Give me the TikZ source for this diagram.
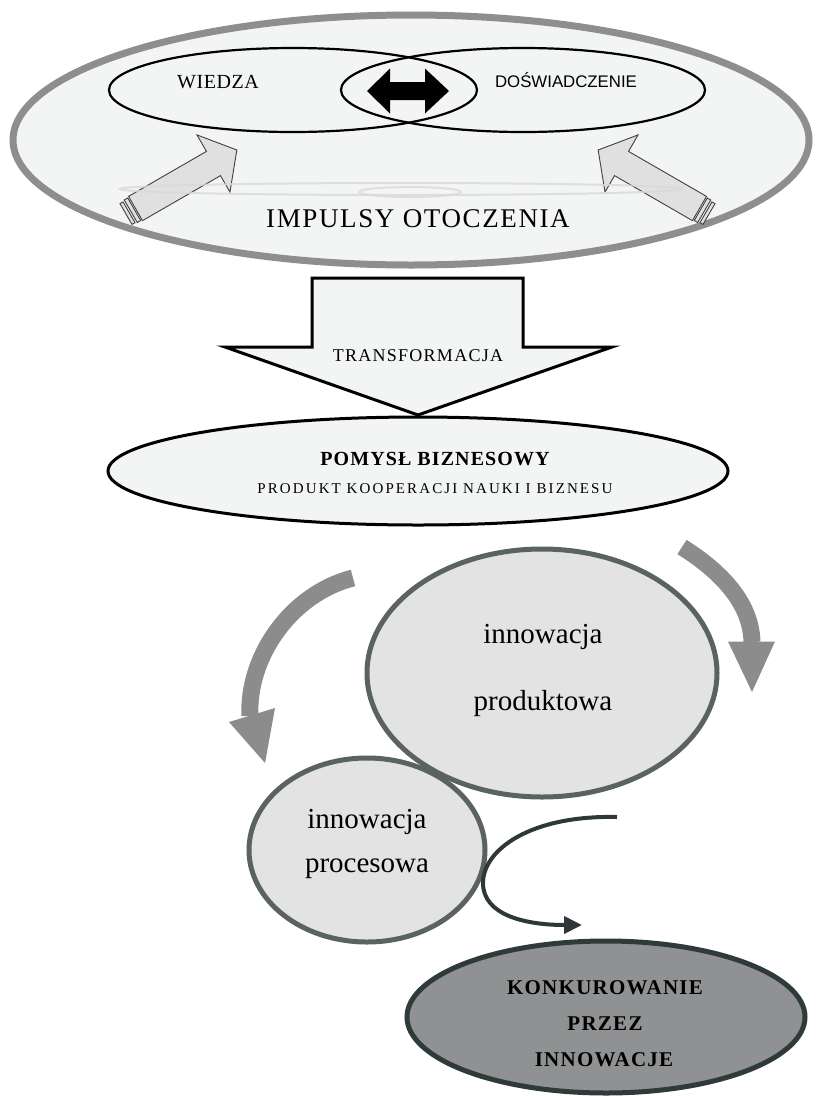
\documentclass[tikz,border=0pt]{standalone}
\usepackage{fontspec}
\setmainfont{Liberation Serif}
\newfontfamily\sansf{Liberation Sans}
\usetikzlibrary{shapes.geometric,arrows.meta}
\definecolor{envfill}{HTML}{F3F4F4}
\definecolor{envline}{HTML}{8E8E8E}
\definecolor{innfill}{HTML}{E3E3E3}
\definecolor{innline}{HTML}{5A6262}
\definecolor{konfill}{HTML}{8F9192}
\definecolor{konline}{HTML}{2F3A3A}
\definecolor{arrgray}{HTML}{8C8C8C}
\definecolor{darkarr}{HTML}{2E3838}
\definecolor{impfill}{HTML}{E0E0E0}
\begin{document}
\begin{tikzpicture}[x=1pt,y=-1pt,
  envell/.style={ellipse, draw=envline, line width=7pt, fill=envfill, inner sep=0pt},
  vennell/.style={ellipse, draw=black, line width=2.2pt, inner sep=0pt},
  ideaell/.style={ellipse, draw=black, line width=3pt, fill=envfill, inner sep=0pt},
  innell/.style={ellipse, draw=innline, line width=5pt, fill=innfill, inner sep=0pt},
  konell/.style={ellipse, draw=konline, line width=5pt, fill=konfill, inner sep=0pt},
  lbl/.style={anchor=base, inner sep=0pt},
  impline/.style={draw=black!75, line width=0.9pt, fill=impfill},
  faint/.style={draw=black!15, line width=2pt},
  cyclearr/.style={draw=arrgray, line width=17pt},
  cyclehead/.style={fill=arrgray, draw=none},
  darkconn/.style={draw=darkarr, line width=4pt, -{Triangle[length=18pt,width=17pt]}},
  blockarr/.style={draw=black, line width=3pt, fill=envfill, line join=miter},
  konfont/.style={font={\bfseries\fontsize{21}{22}\selectfont\addfontfeature{LetterSpace=6}}},
  innfont/.style={font=\fontsize{29}{30}\selectfont},
  impuls/.pic={
    \path[impline] (0,-12) rectangle (3.5,12);
    \path[impline] (5.5,-13) rectangle (9.5,13);
    \path[impline] (11,-14) -- (101,-14) -- (101,-33) -- (128,0) -- (101,33) -- (101,14) -- (11,14) -- cycle;
  }
]
\useasboundingbox (0,0) rectangle (816,1096);

% environment ellipse
\node[envell, minimum width=796pt, minimum height=250pt] (env) at (411,140) {};

% Venn ellipses
\node[vennell, minimum width=368pt, minimum height=84pt] (wiedzaell) at (293,90) {};
\node[vennell, minimum width=364pt, minimum height=84pt] (doswell) at (523,90) {};

% double arrow in the lens
\fill[black] (367,91) -- (390,68.5) -- (390,82) -- (425,82) -- (425,68.5) -- (449,91)
  -- (425,113.5) -- (425,100) -- (390,100) -- (390,113.5) -- cycle;

% impulse arrows
\pic[rotate=30] (impL) at (126,214) {impuls};
\pic[rotate=150] (impR) at (709,214) {impuls};

% faint reflections
\draw[faint, opacity=0.8] (401,189) ellipse [x radius=281, y radius=6];
\draw[faint, opacity=0.8] (410,192) ellipse [x radius=51, y radius=5];

% texts in environment
\node[lbl, font={\fontsize{20}{21}\selectfont\addfontfeature{LetterSpace=3}}] (wiedza) at (218,88) {WIEDZA};
\node[lbl, font=\sansf\fontsize{16.8}{18}\selectfont] (dosw) at (566,87) {DOŚWIADCZENIE};
\node[lbl, font={\fontsize{27}{28}\selectfont\addfontfeature{LetterSpace=6}}] (impulsy) at (418,227) {IMPULSY OTOCZENIA};

% transformation arrow
\path[blockarr] (312,278) -- (523,278) -- (523,347) -- (612,347) -- (418,415) -- (225,347) -- (312,347) -- cycle;
\node[lbl, font={\fontsize{18}{20}\selectfont\addfontfeature{LetterSpace=7}}] (transf) at (418,361) {TRANSFORMACJA};

% business idea
\node[ideaell, minimum width=620pt, minimum height=108pt] (idea) at (418,471) {};
\node[lbl, font={\bfseries\fontsize{20}{22}\selectfont\addfontfeature{LetterSpace=5.5}}] (ideat) at (435,465) {POMYSŁ BIZNESOWY};
\node[lbl, font={\fontsize{15}{17}\selectfont\addfontfeature{LetterSpace=14}}] (ideas) at (435,493) {PRODUKT KOOPERACJI NAUKI I BIZNESU};

% cycle arrows
\coordinate (cl0) at (353,578);
\coordinate (cl1) at (250,716);
\draw[cyclearr] (cl0) .. controls (290,594) and (247,658) .. (cl1);
\coordinate (cltip) at (265,763);
\fill[cyclehead] (229,722) -- (275,708) -- (cltip) -- cycle;

\coordinate (cr0) at (682,547);
\coordinate (cr1) at (752,642);
\draw[cyclearr] (cr0) .. controls (720,571) and (751,602) .. (cr1);
\coordinate (crtip) at (752,692);
\fill[cyclehead] (728,641.5) -- (775,641.5) -- (crtip) -- cycle;

% innovation ellipses
\node[innell, minimum width=350pt, minimum height=248pt] (prod) at (542,673) {};
\node[innell, minimum width=236pt, minimum height=184pt] (proc) at (367,850) {};
\node[lbl, innfont] (prodt1) at (543,643) {innowacja};
\node[lbl, innfont] (prodt2) at (543,710) {produktowa};
\node[lbl, innfont] (proct1) at (367,828) {innowacja};
\node[lbl, innfont] (proct2) at (367,872) {procesowa};

% dark connector
\coordinate (d0) at (617,817);
\coordinate (dmid) at (483,883);
\coordinate (d1) at (582,925);
\draw[darkconn] (d0) .. controls (530,815) and (483,850) .. (dmid) .. controls (483,915) and (525,925) .. (d1);

% competing
\node[konell, minimum width=398pt, minimum height=152pt] (konk) at (606,1017) {};
\node[lbl, konfont] (konk1) at (605,994) {KONKUROWANIE};
\node[lbl, konfont] (konk2) at (605,1030) {PRZEZ};
\node[lbl, konfont] (konk3) at (604,1066) {INNOWACJE};
\end{tikzpicture}
\end{document}
